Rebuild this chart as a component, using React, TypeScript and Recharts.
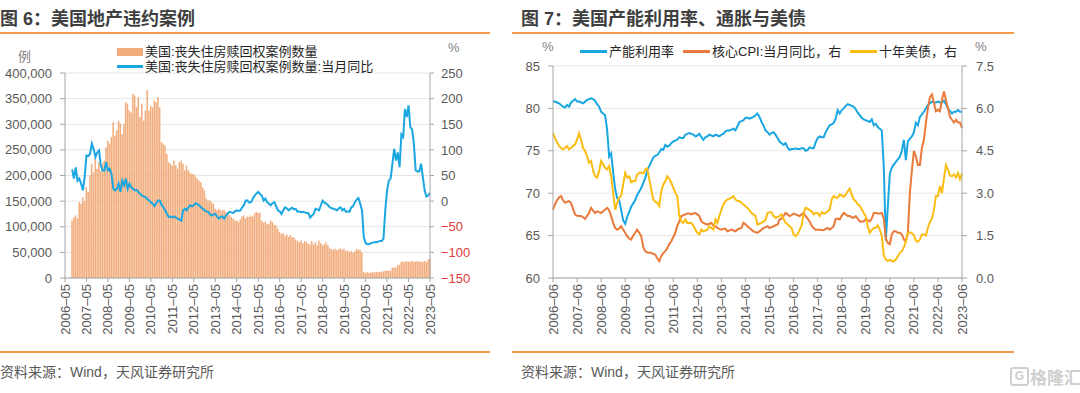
import { Bar, CartesianGrid, ComposedChart, Line, XAxis, YAxis } from "recharts";

const FONT = '"Liberation Sans", Arial, "Noto Sans CJK SC", sans-serif';
const AXIS = "#A6A6A6";
const TXT = "#595959";
const RULE = "#F39B4B";
const BAR = "#F2AC7C";

// 图6: months counted from 2006-05, data starts 2006-09 (index 4)
const leftStart = 4;
const leftTickLabels = [
  "2006–05", "2007–05", "2008–05", "2009–05", "2010–05", "2011–05", "2012–05", "2013–05", "2014–05",
  "2015–05", "2016–05", "2017–05", "2018–05", "2019–05", "2020–05", "2021–05", "2022–05", "2023–05",
];
// 丧失住房赎回权案例数量, thousands
const foreclosures = [
  112, 118, 122, 116, 148, 145, 158, 150, 177, 168,
  200, 223, 206, 232, 213, 226, 210, 223, 229, 255,
  268, 262, 275, 304, 278, 288, 307, 301, 281, 300,
  343, 340, 327, 323, 359, 356, 333, 353, 314, 340,
  307, 327, 367, 327, 336, 333, 346, 343, 353, 333,
  265, 262, 258, 242, 226, 223, 219, 229, 220, 213,
  226, 229, 223, 210, 219, 210, 206, 203, 203, 198,
  194, 190, 187, 177, 171, 155, 151, 151, 148, 145,
  135, 132, 135, 132, 132, 133, 129, 125, 122, 119,
  116, 112, 112, 109, 114, 120, 122, 116, 120, 119,
  122, 120, 126, 129, 127, 128, 112, 108, 110, 105,
  106, 112, 109, 104, 103, 96, 90, 86, 88, 82,
  85, 80, 84, 80, 79, 75, 72, 70, 73, 68,
  72, 70, 67, 65, 72, 66, 70, 64, 73, 68,
  64, 66, 70, 64, 58, 56, 55, 57, 54, 56,
  58, 55, 57, 52, 54, 51, 53, 50, 52, 57,
  55, 55, 50, 12, 10, 11, 10, 11, 11, 11,
  12, 11, 12, 12, 13, 14, 14, 15, 14, 20,
  21, 20, 25, 26, 31, 32, 31, 33, 32, 32,
  33, 31, 32, 33, 31, 32, 31, 33, 31, 36,
  37,
];
// 当月同比, %
const foreclosureYoy = [
  62, 44, 66, 40, 44, 34, 21, 47, 89, 88,
  92, 112, 102, 86, 95, 99, 70, 60, 60, 76,
  60, 63, 53, 24, 21, 24, 34, 18, 40, 31,
  44, 24, 34, 27, 24, 21, 22, 18, 14, 11,
  9, 8, 4, 1, -2, -5, -10, -4, 1, 1,
  -8, -12, -18, -25, -31, -30, -32, -30, -32, -34,
  -36, -38, -18, -15, -18, -12, -8, -10, -8, -4,
  -6, -8, -12, -15, -18, -20, -21, -25, -28, -26,
  -25, -30, -34, -31, -30, -34, -28, -24, -21, -22,
  -23, -20, -18, -19, -18, -12, -8, 1, 1, -3,
  -2, 5, 11, 15, 18, 14, 11, 1, 5, -2,
  -5, -8, -4, -2, -10, -18, -20, -25, -18, -12,
  -14, -18, -15, -13, -16, -15, -21, -20, -22, -21,
  -22, -23, -23, -32, -28, -25, -15, -16, -18, -8,
  1, -3, -5, -8, -12, -14, -15, -16, -18, -14,
  -12, -18, -15, -21, -20, -21, -12, -10, -2, 3,
  6, -5, -18, -70, -82, -84, -84, -82, -81, -80,
  -80, -79, -78, -78, -73, -18, 21, 40, 44, 73,
  102, 79, 95, 66, 130, 125, 180, 164, 187, 144,
  140, 112, 60, 58, 58, 73, 47, 21, 9, 11,
  16,
];

// 图7: months counted from 2006-06
const rightTickLabels = [
  "2006–06", "2007–06", "2008–06", "2009–06", "2010–06", "2011–06", "2012–06", "2013–06", "2014–06",
  "2015–06", "2016–06", "2017–06", "2018–06", "2019–06", "2020–06", "2021–06", "2022–06", "2023–06",
];
const capacityUtil = [
  80.8, 80.8, 80.7, 80.6, 80.4, 80.2, 80.1, 80.4, 80.2, 80.7,
  80.9, 81.1, 80.8, 80.8, 80.7, 80.6, 80.8, 81.0, 81.1, 81.2,
  81.1, 80.9, 80.5, 80.2, 79.6, 79.4, 79.2, 77.5, 74.3, 74.7,
  72.5, 70.5, 69.4, 69.2, 68.0, 66.8, 66.4, 67.2, 67.8, 68.4,
  68.8, 69.2, 69.8, 70.2, 70.6, 71.2, 71.8, 72.7, 73.2, 73.7,
  74.2, 74.4, 74.5, 74.8, 75.2, 75.1, 75.7, 75.5, 75.6, 75.9,
  76.1, 76.2, 76.3, 76.6, 76.5, 76.5, 76.9, 77.0, 77.1, 77.0,
  76.9, 76.7, 76.8, 77.0, 76.6, 76.3, 76.6, 76.7, 76.9, 76.8,
  76.7, 76.9, 76.8, 76.7, 76.9, 77.0, 77.3, 77.4, 77.4, 77.5,
  77.6, 77.4, 77.9, 78.4, 78.5, 78.6, 78.9, 78.9, 78.8, 78.9,
  79.0, 79.2, 79.4, 79.0, 78.4, 78.0, 77.4, 77.2, 76.9, 77.1,
  77.2, 76.9, 76.5, 76.1, 75.9, 75.7, 75.9, 75.4, 75.1, 75.2,
  75.2, 75.3, 75.2, 75.2, 75.3, 75.3, 75.0, 75.1, 75.4, 75.3,
  75.3, 76.0, 76.5, 76.7, 76.6, 76.6, 77.2, 77.6, 78.0, 78.1,
  78.3, 78.8, 79.8, 79.4, 79.8, 80.0, 80.3, 80.5, 80.4, 80.3,
  80.2, 79.9, 79.5, 79.2, 78.9, 78.7, 78.6, 78.5, 78.4, 78.7,
  78.0, 78.2, 77.8, 77.6, 77.4, 73.0, 64.4, 68.4, 72.3, 73.0,
  73.4, 73.7, 74.0, 74.3, 75.0, 76.3, 73.9, 76.1, 76.4, 76.7,
  77.2, 78.3, 78.0, 79.0, 79.3, 79.6, 80.0, 80.4, 80.6, 80.8,
  80.7, 80.7, 80.8, 80.7, 80.7, 80.9, 80.5, 80.0, 79.7, 79.4,
  79.6, 79.6, 79.8, 79.6, 79.6,
];
const coreCpi = [
  2.42, 2.6, 2.75, 2.85, 2.9, 2.75, 2.66, 2.7, 2.72, 2.66,
  2.45, 2.25, 2.2, 2.19, 2.19, 2.15, 2.09, 2.2, 2.3, 2.48,
  2.38, 2.3, 2.36, 2.33, 2.3, 2.36, 2.42, 2.48, 2.4, 2.19,
  1.95, 1.77, 1.71, 1.75, 1.83, 1.71, 1.6, 1.48, 1.4, 1.36,
  1.5, 1.6, 1.71, 1.6, 1.48, 1.1, 0.95, 0.9, 0.89, 0.89,
  0.85, 0.83, 0.7, 0.6, 0.78, 0.88, 0.95, 1.05, 1.2, 1.3,
  1.45, 1.6, 1.85, 2.0, 2.19, 2.22, 2.25, 2.28, 2.28, 2.25,
  2.28, 2.3, 2.25, 2.19, 2.0, 1.95, 1.92, 1.89, 1.92, 1.95,
  1.85, 1.83, 1.77, 1.74, 1.71, 1.74, 1.74, 1.65, 1.68, 1.71,
  1.68, 1.65, 1.71, 1.75, 1.77, 1.95, 1.9, 1.83, 1.77, 1.71,
  1.65, 1.62, 1.6, 1.65, 1.71, 1.77, 1.8, 1.83, 1.77, 1.8,
  1.83, 1.87, 1.89, 2.07, 2.1, 2.19, 2.3, 2.25, 2.19, 2.22,
  2.28, 2.25, 2.22, 2.19, 2.25, 2.3, 2.19, 2.1, 2.0, 1.85,
  1.77, 1.71, 1.71, 1.71, 1.7, 1.69, 1.74, 1.77, 1.71, 1.77,
  1.83, 2.09, 2.1, 2.07, 2.2, 2.3, 2.25, 2.19, 2.19, 2.15,
  2.13, 2.19, 2.1, 2.0, 2.0, 2.0, 2.09, 2.05, 2.0, 2.1,
  2.3, 2.3, 2.28, 2.28, 2.3, 2.1, 1.4, 1.24, 1.2, 1.55,
  1.65, 1.65, 1.6, 1.6, 1.54, 1.36, 1.3, 1.6, 3.0, 3.8,
  4.5, 4.3, 4.0, 4.0, 4.6, 4.9, 5.5, 6.0, 6.4, 6.5,
  6.2, 5.9, 5.95, 5.9, 6.3, 6.6, 6.3, 6.0, 5.7, 5.6,
  5.5, 5.6, 5.5, 5.5, 5.3,
];
const ust10y = [
  5.12, 4.96, 4.8, 4.67, 4.6, 4.55, 4.6, 4.67, 4.55, 4.6,
  4.67, 4.73, 4.9, 5.12, 4.9, 4.6, 4.5, 4.3, 4.08, 4.14,
  3.8, 3.6, 3.55, 3.78, 4.14, 4.02, 3.9, 3.84, 3.96, 3.6,
  3.0, 2.42, 2.66, 2.84, 2.9, 3.31, 3.72, 3.55, 3.6, 3.39,
  3.43, 3.43, 3.66, 3.72, 3.72, 3.7, 3.84, 3.88, 3.49, 3.13,
  2.78, 2.7, 2.66, 2.54, 3.07, 3.3, 3.43, 3.6, 3.51, 3.37,
  3.2, 3.01, 2.9, 2.19, 2.0, 1.95, 2.07, 1.95, 1.95, 1.95,
  1.85, 1.71, 1.6, 1.54, 1.71, 1.65, 1.68, 1.71, 1.83, 1.77,
  1.71, 2.07, 1.95, 2.2, 2.42, 2.6, 2.72, 2.78, 2.8, 2.84,
  2.9, 2.78, 2.72, 2.72, 2.66, 2.6, 2.54, 2.48, 2.4, 2.3,
  2.25, 2.19, 1.89, 1.92, 1.95, 2.0, 2.05, 2.3, 2.33, 2.33,
  2.19, 2.13, 2.16, 2.19, 2.25, 2.09, 1.95, 1.9, 1.83, 1.77,
  1.54, 1.48, 1.55, 1.7, 1.85, 2.3, 2.48, 2.45, 2.4, 2.36,
  2.25, 2.3, 2.3, 2.19, 2.33, 2.28, 2.3, 2.36, 2.42, 2.78,
  2.9, 2.84, 2.84, 2.95, 2.92, 2.87, 2.95, 3.07, 3.16, 2.95,
  2.78, 2.72, 2.6, 2.56, 2.42, 2.3, 2.19, 1.83, 1.6, 1.7,
  1.77, 1.77, 1.86, 1.71, 1.5, 0.8, 0.65, 0.6, 0.65, 0.6,
  0.59, 0.65, 0.77, 0.89, 0.95, 1.08, 1.3, 1.6, 1.62, 1.58,
  1.52, 1.32, 1.28, 1.36, 1.54, 1.54, 1.5, 1.78, 1.98, 2.1,
  2.4, 2.9, 2.9, 3.25, 3.0, 3.52, 3.99, 3.84, 3.62, 3.6,
  3.66, 3.55, 3.72, 3.49, 3.7,
];

const leftData = foreclosures.map((v, i) => ({ m: leftStart + i, count: v, yoy: foreclosureYoy[i] }));
const rightData = capacityUtil.map((v, i) => ({ m: i, cap: v, cpi: coreCpi[i], ust: ust10y[i] }));
const leftTickPos = leftTickLabels.map((_, i) => i * 12);
const rightTickPos = rightTickLabels.map((_, i) => i * 12);

const XTick = ({ x, y, payload, labels }: any) => (
  <text
    transform={`translate(${x},${y}) rotate(-90)`}
    textAnchor="end"
    dominantBaseline="central"
    fontSize={13}
    fill={TXT}
    fontFamily={FONT}
  >
    {labels[Math.round(payload.value / 12)]}
  </text>
);

const RightTick = ({ x, y, payload }: any) => {
  const v = payload.value;
  return (
    <text x={x} y={y} dy="0.36em" textAnchor="start" fontSize={13} fill={v < 0 ? "#E03C3C" : TXT} fontFamily={FONT}>
      {v < 0 ? `−${-v}` : v}
    </text>
  );
};

const abs = (l: number, t: number): any => ({ position: "absolute", left: l, top: t, whiteSpace: "nowrap" });

export default function App() {
  return (
    <div style={{ position: "absolute", left: 0, top: 0, width: 1080, height: 393, background: "#fff", overflow: "hidden", fontFamily: FONT }}>
      {/* titles and rules */}
      <div style={{ ...abs(0, 4), fontSize: 18, fontWeight: 700, color: "#3F3F3F" }}>图 6：美国地产违约案例</div>
      <div style={{ ...abs(521, 4), fontSize: 18, fontWeight: 700, color: "#3F3F3F" }}>图 7：美国产能利用率、通胀与美债</div>
      <div style={{ ...abs(0, 32), width: 490, height: 1.5, background: RULE }} />
      <div style={{ ...abs(512, 32), width: 502, height: 1.5, background: RULE }} />
      <div style={{ ...abs(0, 351), width: 490, height: 1.5, background: RULE }} />
      <div style={{ ...abs(512, 351), width: 502, height: 1.5, background: RULE }} />
      <div style={{ ...abs(0, 361), fontSize: 14, color: TXT }}>资料来源：Wind，天风证券研究所</div>
      <div style={{ ...abs(521, 361), fontSize: 14, color: TXT }}>资料来源：Wind，天风证券研究所</div>

      {/* left chart */}
      <div style={{ position: "absolute", left: 0, top: 0 }}>
        <ComposedChart width={480} height={360} data={leftData} margin={{ top: 73, right: 0, bottom: 0, left: 0 }}>
          <CartesianGrid yAxisId="l" vertical={false} stroke="#E6E6E6" />
          <XAxis
            dataKey="m"
            type="number"
            domain={[0, 204]}
            ticks={leftTickPos}
            interval={0}
            height={82}
            tickSize={4}
            stroke={AXIS}
            tick={(p: any) => <XTick {...p} labels={leftTickLabels} />}
          />
          <YAxis
            yAxisId="l"
            domain={[0, 400]}
            ticks={[0, 50, 100, 150, 200, 250, 300, 350, 400]}
            interval={0}
            width={65}
            tickSize={5}
            tickMargin={8}
            stroke={AXIS}
            tick={{ fill: TXT, fontSize: 13 }}
            tickFormatter={(v: number) => (v === 0 ? "0" : `${v},000`)}
          />
          <YAxis
            yAxisId="r"
            orientation="right"
            domain={[-150, 250]}
            ticks={[-150, -100, -50, 0, 50, 100, 150, 200, 250]}
            interval={0}
            width={50}
            tickSize={4}
            tickMargin={7}
            stroke={AXIS}
            tick={(p: any) => <RightTick {...p} />}
          />
          <Bar yAxisId="l" dataKey="count" fill={BAR} barSize={1.5} isAnimationActive={false} />
          <Line yAxisId="r" dataKey="yoy" type="linear" stroke="#1AA7E1" strokeWidth={2} dot={false} isAnimationActive={false} />
        </ComposedChart>
      </div>
      <div style={{ ...abs(18, 46), fontSize: 13, color: "#7F7F7F" }}>例</div>
      <div style={{ ...abs(448, 40), fontSize: 13, color: "#7F7F7F" }}>%</div>
      <div style={{ ...abs(117, 48), width: 26, height: 8, background: BAR }} />
      <div style={{ ...abs(145, 43), fontSize: 13, lineHeight: "17px", color: "#262626" }}>美国:丧失住房赎回权案例数量</div>
      <div style={{ ...abs(117, 65), width: 26, height: 2.5, background: "#1AA7E1" }} />
      <div style={{ ...abs(145, 58), fontSize: 13, lineHeight: "17px", color: "#262626" }}>美国:丧失住房赎回权案例数量:当月同比</div>

      {/* right chart */}
      <div style={{ position: "absolute", left: 500, top: 0 }}>
        <ComposedChart width={520} height={360} data={rightData} margin={{ top: 66, right: 0, bottom: 0, left: 0 }}>
          <CartesianGrid yAxisId="l" vertical={false} stroke="#E6E6E6" />
          <XAxis
            dataKey="m"
            type="number"
            domain={[0, 204]}
            ticks={rightTickPos}
            interval={0}
            height={82}
            tickSize={4}
            stroke={AXIS}
            tick={(p: any) => <XTick {...p} labels={rightTickLabels} />}
          />
          <YAxis
            yAxisId="l"
            domain={[60, 85]}
            ticks={[60, 65, 70, 75, 80, 85]}
            interval={0}
            width={53}
            tickSize={5}
            tickMargin={8}
            stroke={AXIS}
            tick={{ fill: TXT, fontSize: 13 }}
          />
          <YAxis
            yAxisId="r"
            orientation="right"
            domain={[0, 7.5]}
            ticks={[0, 1.5, 3, 4.5, 6, 7.5]}
            interval={0}
            width={58}
            tickSize={5}
            tickMargin={9}
            stroke={AXIS}
            tick={{ fill: TXT, fontSize: 13 }}
            tickFormatter={(v: number) => v.toFixed(1)}
          />
          <Line yAxisId="l" dataKey="cap" type="linear" stroke="#1AA7E1" strokeWidth={2} dot={false} isAnimationActive={false} />
          <Line yAxisId="r" dataKey="cpi" type="linear" stroke="#EA7A3B" strokeWidth={2} dot={false} isAnimationActive={false} />
          <Line yAxisId="r" dataKey="ust" type="linear" stroke="#FBBD14" strokeWidth={2} dot={false} isAnimationActive={false} />
        </ComposedChart>
      </div>
      <div style={{ ...abs(542, 39), fontSize: 13, color: "#7F7F7F" }}>%</div>
      <div style={{ ...abs(975, 39), fontSize: 13, color: "#7F7F7F" }}>%</div>
      <div style={{ ...abs(580, 50), width: 27, height: 2.5, background: "#1AA7E1" }} />
      <div style={{ ...abs(609, 43), fontSize: 13, lineHeight: "17px", color: "#262626" }}>产能利用率</div>
      <div style={{ ...abs(683, 50), width: 27, height: 2.5, background: "#EA7A3B" }} />
      <div style={{ ...abs(712, 43), fontSize: 13, lineHeight: "17px", color: "#262626" }}>核心CPI:当月同比，右</div>
      <div style={{ ...abs(850, 50), width: 27, height: 2.5, background: "#FBBD14" }} />
      <div style={{ ...abs(879, 43), fontSize: 13, lineHeight: "17px", color: "#262626" }}>十年美债，右</div>

      {/* watermark */}
      <div style={{ ...abs(1010, 367), width: 15, height: 15, border: "2px solid #CFCFCF", borderRadius: 3, color: "#CFCFCF", fontSize: 12, fontWeight: 700, lineHeight: "15px", textAlign: "center" }}>G</div>
      <div style={{ ...abs(1030, 364), fontSize: 17, color: "#CFCFCF", fontWeight: 700 }}>格隆汇</div>
    </div>
  );
}
